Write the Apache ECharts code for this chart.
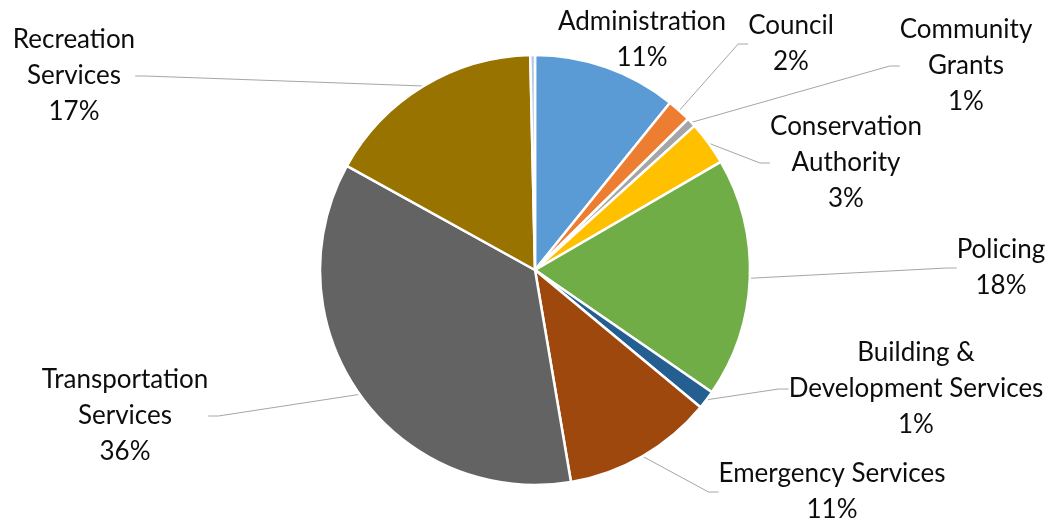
<!DOCTYPE html>
<html>
<head>
<meta charset="utf-8">
<script src="https://cdn.jsdelivr.net/npm/echarts@6/dist/echarts.min.js"></script>
<style>
  html, body { margin: 0; padding: 0; background: #fff; }
  #myChart1 { width: 1052px; height: 527px; }
</style>
</head>
<body>
<div id="myChart1"></div>
<script>
// slices clockwise from 12 o'clock; last one is the tiny unlabelled sliver
var categories = ['Administration', 'Council', 'Community\nGrants', 'Conservation\nAuthority',
    'Policing', 'Building &\nDevelopment Services', 'Emergency Services',
    'Transportation\nServices', 'Recreation\nServices', ''];
var values = [10.8, 1.8, 0.7, 3.3, 18.0, 1.4, 11.3, 35.7, 16.6, 0.35];
var colors = ['#5B9BD5', '#ED7D31', '#A5A5A5', '#FFC000', '#70AD47', '#255E91',
    '#9E480E', '#636363', '#997300', '#B4C6E7'];

// where the label blocks sit (centre of text block, px)
var labelPos = [[642, 40], [791, 44], [966, 66], [846, 163], [1001, 268],
    [916, 389], [832, 492], [125, 416], [74, 76], null];

var pieData = categories.map(function (name, i) {
    var item = {
        name: name,
        value: values[i],
        itemStyle: { color: colors[i] }
    };
    if (i === 0) {
        item.labelLine = { show: false };
    }
    if (name === '') {
        item.label = { show: false };
        item.labelLine = { show: false };
    }
    return item;
});

var option = {
    backgroundColor: '#fff',
    animation: false,
    series: [
        {
            type: 'pie',
            center: [535, 270],
            radius: 215,
            startAngle: 90,
            clockwise: true,
            avoidLabelOverlap: false,
            percentPrecision: 0,
            itemStyle: {
                borderColor: '#fff',
                borderWidth: 2.5
            },
            label: {
                show: true,
                position: 'outside',
                formatter: '{b}\n{d}%',
                fontFamily: 'Lato',
                fontSize: 26,
                lineHeight: 36,
                color: '#0d0d0d',
                align: 'center'
            },
            labelLine: {
                show: true,
                length: 10,
                length2: 10,
                lineStyle: { color: '#A6A6A6', width: 1 }
            },
            labelLayout: function (params) {
                var p = labelPos[params.dataIndex];
                if (!p) return {};
                return { x: p[0], y: p[1], align: 'center', verticalAlign: 'middle' };
            },
            data: pieData
        }
    ]
};

var myChart1 = echarts.init(document.getElementById('myChart1'));
myChart1.setOption(option);
window.onresize = myChart1.resize;
</script>
</body>
</html>
